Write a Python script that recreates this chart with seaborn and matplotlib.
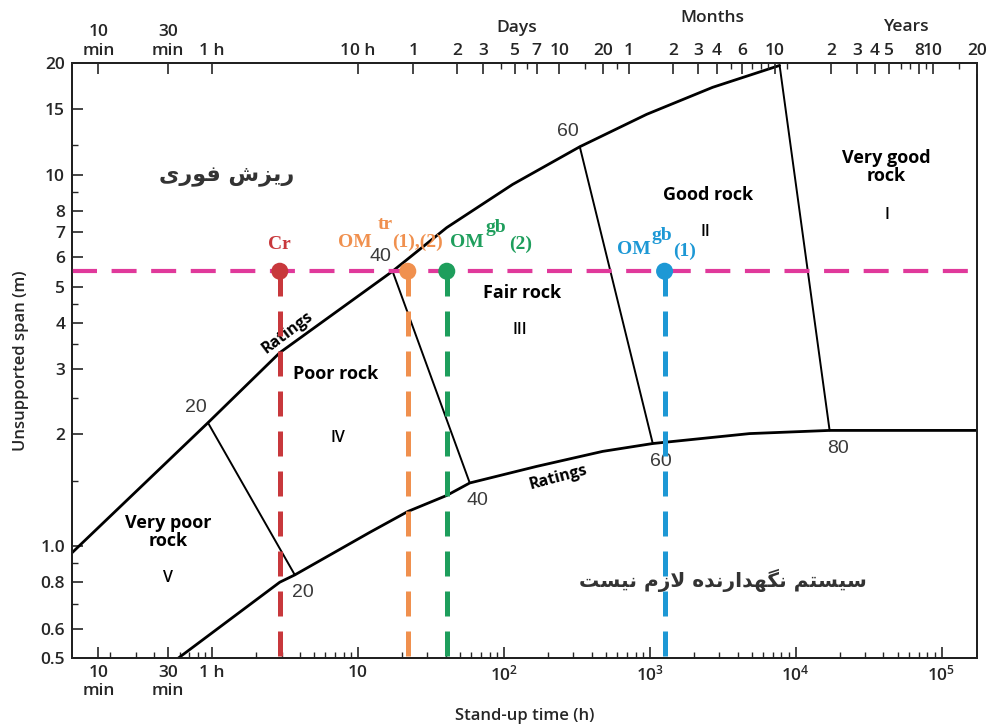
import matplotlib
matplotlib.use('Agg')
import matplotlib.pyplot as plt
from matplotlib.ticker import FixedLocator, NullFormatter, LogLocator
import pandas as pd
import seaborn as sns

# boundary curves of the chart: stand-up time (h) and unsupported span (m)
upper_h = [0.11, 0.94, 2.92, 17.3, 40.7, 115, 332, 954, 2700, 7770]
upper_m = [0.96, 2.15, 3.32, 5.5, 7.21, 9.42, 11.9, 14.55, 17.2, 19.7]
lower_h = [0.59, 2.92, 3.7, 12.1, 22, 40.7, 58.5, 168, 476, 1050, 4840, 17100, 175000]
lower_m = [0.5, 0.80, 0.837, 1.09, 1.24, 1.37, 1.48, 1.64, 1.80, 1.89, 2.01, 2.05, 2.05]

# RMR rating lines (end on the upper and on the lower curve)
ratings = [20, 40, 60, 80]
rating_top_h = [0.94, 17.3, 332, 7770]
rating_top_m = [2.15, 5.5, 11.9, 19.7]
rating_bot_h = [3.7, 58.5, 1050, 17100]
rating_bot_m = [0.837, 1.48, 1.89, 2.05]

# observed cases at the tunnel span
span_m = 5.5
obs_names = ['Cr', 'OM tr', 'OM gb (2)', 'OM gb (1)']
obs_h = [2.92, 22, 40.7, 1265]
obs_colors = ['#c8383c', '#f0904e', '#1e9e5c', '#1d98d5']
span_color = '#e0399b'

# rock classes
class_names = ['Very poor\nrock', 'Poor rock', 'Fair rock', 'Good rock', 'Very good\nrock']
class_roman = ['V', 'IV', 'III', 'II', 'I']
class_h = [0.5, 7.1, 133, 2500, 42000]
class_m = [1.09, 2.91, 4.82, 8.8, 10.5]
roman_h = [0.5, 7.3, 128, 2420, 42000]
roman_m = [0.82, 1.96, 3.83, 7.0, 7.8]

# axis ticks
x_ticks = [10 / 60, 0.5, 1, 10, 100, 1e3, 1e4, 1e5]
x_labels = ['10\nmin', '30\nmin', '1 h', '10', '$10^2$', '$10^3$', '$10^4$', '$10^5$']
y_ticks = [0.5, 0.6, 0.8, 1.0, 2, 3, 4, 5, 6, 7, 8, 10, 15, 20]
y_labels = ['0.5', '0.6', '0.8', '1.0', '2', '3', '4', '5', '6', '7', '8', '10', '15', '20']
y_minor = [0.7, 0.9, 1.5, 2.5, 3.5, 4.5, 9, 12]

day, month, year = 24, 720, 8760
top_ticks = ([10 / 60, 0.5, 1, 10] + [d * day for d in [1, 2, 3, 5, 7, 10, 20]]
             + [m * month for m in [1, 2, 3, 4, 6, 10]] + [y * year for y in [2, 3, 4, 5, 8, 10, 20]])
top_labels = (['10\nmin', '30\nmin', '1 h', '10 h'] + ['1', '2', '3', '5', '7', '10', '20']
              + ['1', '2', '3', '4', '6', '10'] + ['2', '3', '4', '5', '8', '10', '20'])
top_minor = ([d * day for d in [4, 6, 15, 25]] + [m * month for m in [5, 7, 8, 9]]
             + [y * year for y in [1, 6, 7, 9, 15]])

text_fa_top = 'ریزش فوری'
text_fa_bottom = 'سیستم نگهدارنده لازم نیست'

# presentation forms so that matplotlib can show joined Persian letters
AR_FORMS = {
    'ا': ('\ufe8d', '\ufe8e'), 'د': ('\ufea9', '\ufeaa'), 'ر': ('\ufead', '\ufeae'),
    'ز': ('\ufeaf', '\ufeb0'), 'و': ('\ufeed', '\ufeee'),
    'ت': ('\ufe95', '\ufe96', '\ufe97', '\ufe98'), 'س': ('\ufeb1', '\ufeb2', '\ufeb3', '\ufeb4'),
    'ش': ('\ufeb5', '\ufeb6', '\ufeb7', '\ufeb8'), 'ف': ('\ufed1', '\ufed2', '\ufed3', '\ufed4'),
    'ل': ('\ufedd', '\ufede', '\ufedf', '\ufee0'), 'م': ('\ufee1', '\ufee2', '\ufee3', '\ufee4'),
    'ن': ('\ufee5', '\ufee6', '\ufee7', '\ufee8'), 'ه': ('\ufee9', '\ufeea', '\ufeeb', '\ufeec'),
    'ی': ('\ufbfc', '\ufbfd', '\ufbfe', '\ufbff'), 'گ': ('\ufb92', '\ufb93', '\ufb94', '\ufb95'),
}


def shape_fa(text):
    out = []
    i = 0
    while i < len(text):
        c = text[i]
        if c not in AR_FORMS:
            out.append(c)
            i += 1
            continue
        prev = text[i - 1] if i > 0 else ''
        joins_prev = prev in AR_FORMS and len(AR_FORMS[prev]) == 4
        if c == 'ل' and i + 1 < len(text) and text[i + 1] == 'ا':
            out.append('\ufefc' if joins_prev else '\ufefb')
            i += 2
            continue
        nxt = text[i + 1] if i + 1 < len(text) else ''
        joins_next = len(AR_FORMS[c]) == 4 and nxt in AR_FORMS
        f = AR_FORMS[c]
        if joins_prev and joins_next:
            out.append(f[3])
        elif joins_prev:
            out.append(f[1])
        elif joins_next:
            out.append(f[2])
        else:
            out.append(f[0])
        i += 1
    return ''.join(reversed(out))


sns.set_theme(style='ticks')
plt.rcParams['font.family'] = ['Open Sans', 'DejaVu Sans']
plt.rcParams['mathtext.default'] = 'regular'

fig = plt.figure(figsize=(9.89, 7.27), dpi=100)
ax = fig.add_axes([72 / 989, 1 - 658 / 727, 905 / 989, 595 / 727])

upper = pd.DataFrame({'h': upper_h, 'm': upper_m})
lower = pd.DataFrame({'h': lower_h, 'm': lower_m})
sns.lineplot(data=upper, x='h', y='m', sort=False, color='black', linewidth=2.0, ax=ax)
sns.lineplot(data=lower, x='h', y='m', sort=False, color='black', linewidth=2.0, ax=ax)
for i in range(len(ratings)):
    ax.plot([rating_top_h[i], rating_bot_h[i]], [rating_top_m[i], rating_bot_m[i]],
            color='black', linewidth=1.4)

ax.set_xscale('log')
ax.set_yscale('log')
ax.set_xlim(0.11, 1.75e5)
ax.set_ylim(0.5, 20)

# span line and the observed cases
ax.axhline(span_m, color=span_color, linewidth=3, linestyle=(0, (6, 3.5)), zorder=4)
for h, c in zip(obs_h, obs_colors):
    ax.plot([h, h], [span_m, 0.5], color=c, linewidth=3.6, linestyle=(0, (5, 3)), zorder=4)
obs = pd.DataFrame({'h': obs_h, 'm': [span_m] * len(obs_h), 'name': obs_names})
sns.scatterplot(data=obs, x='h', y='m', hue='name', palette=obs_colors, s=150,
                edgecolor='none', legend=False, zorder=5, ax=ax)

serif = dict(family='Liberation Serif', fontweight='bold', fontsize=14)
ax.annotate('Cr', (obs_h[0], span_m), xytext=(0, 22), textcoords='offset pixels',
            ha='center', va='baseline', color=obs_colors[0], **serif)
om_parts = [
    [('OM', -70, 24), ('tr', -30, 42), ('(1),(2)', -16, 24)],
    [('OM', 3, 24), ('gb', 39, 39), ('(2)', 62, 22)],
    [('OM', -48, 17), ('gb', -13, 31), ('(1)', 9, 15)],
]
for k, parts in enumerate(om_parts):
    for txt, dx, dy in parts:
        ax.annotate(txt, (obs_h[k + 1], span_m), xytext=(dx, dy), textcoords='offset pixels',
                    ha='left', va='baseline', color=obs_colors[k + 1], **serif)

# rating numbers
for i, r in enumerate(ratings[:3]):
    ax.annotate(str(r), (rating_top_h[i], rating_top_m[i]), xytext=(-12, 15),
                textcoords='offset pixels', ha='center', va='center',
                family='Liberation Sans', fontsize=14, color='#3a3a3a')
for i, r in enumerate(ratings):
    ax.annotate(str(r), (rating_bot_h[i], rating_bot_m[i]), xytext=(8, -18),
                textcoords='offset pixels', ha='center', va='center',
                family='Liberation Sans', fontsize=14, color='#3a3a3a')
ax.text(3.3, 3.76, 'Ratings', rotation=37, ha='center', va='center',
        fontsize=11.5, fontweight='bold', color='black')
ax.text(238, 1.53, 'Ratings', rotation=15, ha='center', va='center',
        fontsize=11.5, fontweight='bold', color='black')

for name, h, m in zip(class_names, class_h, class_m):
    ax.text(h, m, name, ha='center', va='center', fontsize=13, fontweight='bold',
            linespacing=1.0, color='black')
for name, h, m in zip(class_roman, roman_h, roman_m):
    ax.text(h, m, name, ha='center', va='center', fontsize=11.5, fontweight='semibold',
            color='black')

ax.text(1.27, 9.84, shape_fa(text_fa_top), ha='center', va='center', fontsize=16,
        fontweight='bold', family='DejaVu Sans', color='#333333')
ax.text(3160, 0.81, shape_fa(text_fa_bottom), ha='center', va='center', fontsize=14.5,
        fontweight='bold', family='DejaVu Sans', color='#333333')

# bottom and left axes
ax.set_xticks(x_ticks, x_labels)
ax.xaxis.set_minor_locator(LogLocator(base=10, subs=range(2, 10), numticks=30))
ax.xaxis.set_minor_formatter(NullFormatter())
ax.set_yticks(y_ticks, y_labels)
ax.yaxis.set_minor_locator(FixedLocator(y_minor))
ax.yaxis.set_minor_formatter(NullFormatter())
ax.tick_params(which='major', direction='in', length=8, width=1.2, labelsize=12.5, pad=5)
ax.tick_params(which='minor', direction='in', length=4, width=1.0)
for lab in ax.get_xticklabels() + ax.get_yticklabels():
    lab.set_fontweight('semibold')
ax.set_xlabel('Stand-up time (h)', fontsize=12, fontweight='semibold', labelpad=6)
ax.set_ylabel('Unsupported span (m)', fontsize=12, fontweight='semibold', labelpad=8)
for s in ax.spines.values():
    s.set_linewidth(1.4)
    s.set_color('black')

# top axis in minutes, hours, days, months and years
ax2 = ax.twiny()
ax2.set_xscale('log')
ax2.set_xlim(ax.get_xlim())
ax2.set_xticks(top_ticks, top_labels)
ax2.xaxis.set_minor_locator(FixedLocator(top_minor))
ax2.xaxis.set_minor_formatter(NullFormatter())
ax2.tick_params(which='major', direction='in', length=8, width=1.2, labelsize=12.5, pad=3)
ax2.tick_params(which='minor', direction='in', length=4, width=1.0)
for lab in ax2.get_xticklabels():
    lab.set_fontweight('semibold')
fig.text(517 / 989, 1 - 28 / 727, 'Days', ha='center', va='center', fontsize=12.5, fontweight='semibold')
fig.text(712 / 989, 1 - 18 / 727, 'Months', ha='center', va='center', fontsize=12.5, fontweight='semibold')
fig.text(907 / 989, 1 - 27 / 727, 'Years', ha='center', va='center', fontsize=12.5, fontweight='semibold')

fig.savefig('out.png', dpi=100)
